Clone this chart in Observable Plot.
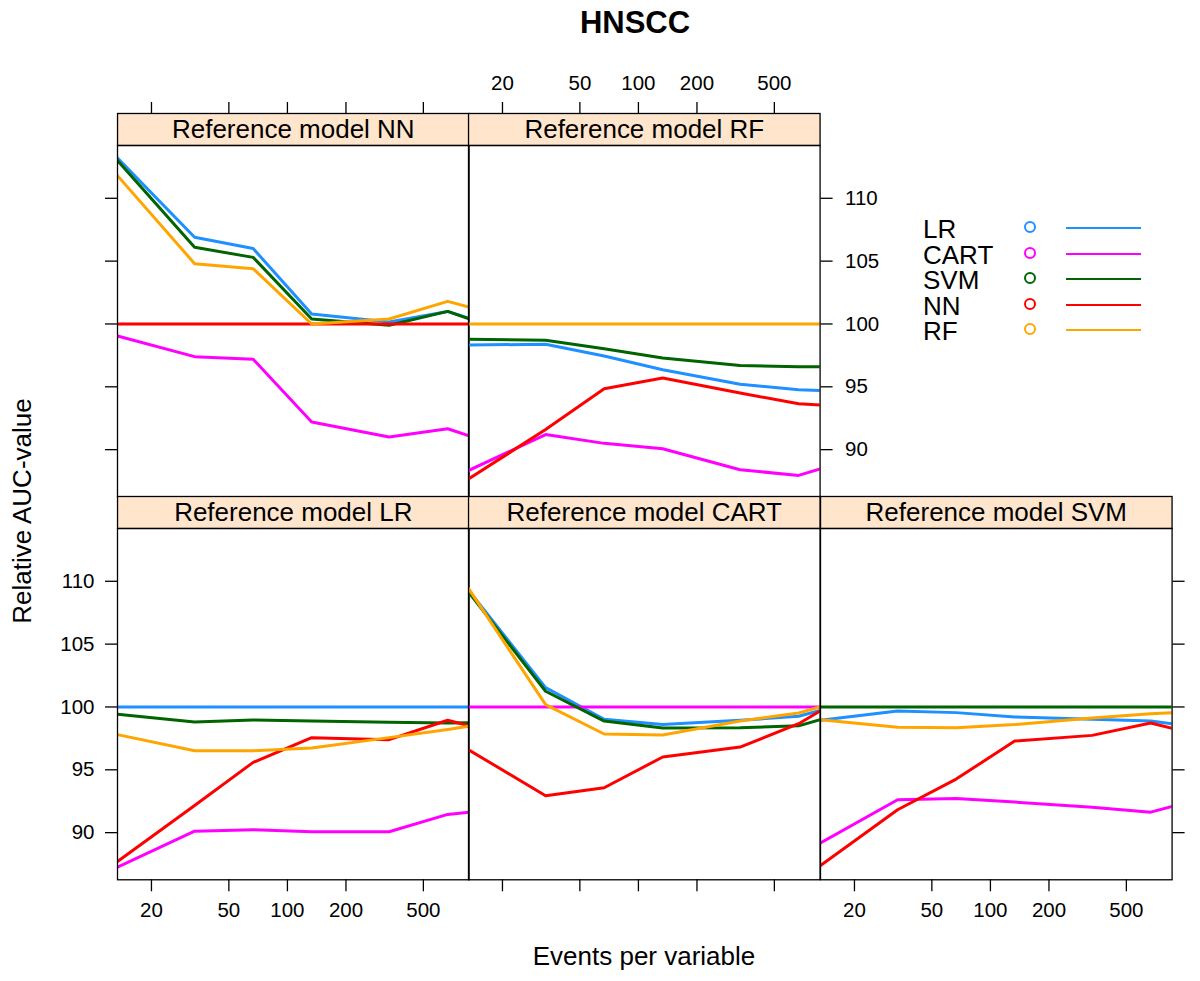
<!DOCTYPE html>
<html><head><meta charset="utf-8">
<script src="https://cdn.jsdelivr.net/npm/d3@7"></script>
<script src="https://cdn.jsdelivr.net/npm/@observablehq/plot@0.6"></script>
<style>
body{margin:0;background:#fff;}
#fig{position:relative;width:1200px;height:981px;font-family:"Liberation Sans",Arial,Helvetica,sans-serif;color:#000;overflow:hidden;background:#fff;}
.abs{position:absolute;white-space:nowrap;}
</style></head><body><div id="fig"></div>
<script>
// ---------- data ----------
const series = ["LR", "CART", "SVM", "NN", "RF"];
const seriesColors = ["#1E90FF", "#FF00FF", "#006400", "#FF0000", "#FFA500"];
const epv = [13.38, 33.33, 66.67, 133.3, 333.3, 666.7, 859];
const xTicks = [20, 50, 100, 200, 500];
const yTicks = [90, 95, 100, 105, 110];
const xDomain = [13.38, 859];
const yDomain = [86.25, 114.2];

// Reference model NN
const nnLR   = [113.2, 106.9, 106.0, 100.8, 100.15, 101.0, 100.45];
const nnCART = [99.04, 97.4, 97.2, 92.2, 91.0, 91.66, 91.1];
const nnSVM  = [113.0, 106.1, 105.3, 100.4, 99.9, 101.0, 100.4];
const nnNN   = [100, 100, 100, 100, 100, 100, 100];
const nnRF   = [111.8, 104.8, 104.4, 100.0, 100.4, 101.8, 101.35];
// Reference model RF
const rfLR   = [98.33, 98.38, 97.45, 96.36, 95.2, 94.77, 94.7];
const rfCART = [88.34, 91.2, 90.5, 90.07, 88.4, 87.95, 88.47];
const rfSVM  = [98.78, 98.7, 98.03, 97.3, 96.7, 96.6, 96.6];
const rfNN   = [87.67, 91.6, 94.85, 95.7, 94.5, 93.65, 93.55];
const rfRF   = [100, 100, 100, 100, 100, 100, 100];
// Reference model LR
const lrLR   = [100, 100, 100, 100, 100, 100, 100];
const lrCART = [87.25, 90.12, 90.23, 90.07, 90.07, 91.45, 91.63];
const lrSVM  = [99.42, 98.8, 98.96, 98.88, 98.78, 98.73, 98.75];
const lrNN   = [87.7, 92.16, 95.59, 97.56, 97.4, 98.94, 98.5];
const lrRF   = [97.8, 96.52, 96.52, 96.73, 97.56, 98.2, 98.46];
// Reference model CART
const cartLR   = [109.3, 101.54, 99.02, 98.6, 98.94, 99.26, 99.73];
const cartCART = [100, 100, 100, 100, 100, 100, 100];
const cartSVM  = [109.16, 101.25, 98.88, 98.33, 98.35, 98.5, 98.99];
const cartNN   = [96.6, 92.93, 93.57, 96.02, 96.81, 98.67, 99.68];
const cartRF   = [109.43, 100.19, 97.85, 97.77, 98.88, 99.52, 100.0];
// Reference model SVM
const svmLR   = [98.94, 99.68, 99.55, 99.2, 99.02, 98.88, 98.67];
const svmCART = [89.19, 92.62, 92.72, 92.43, 92.03, 91.63, 92.08];
const svmSVM  = [100, 100, 100, 100, 100, 100, 100];
const svmNN   = [87.38, 91.82, 94.26, 97.29, 97.74, 98.73, 98.3];
const svmRF   = [98.99, 98.38, 98.35, 98.6, 99.12, 99.47, 99.55];

const panels = [
  {ref: "NN",   row: 0, col: 0, values: [nnLR, nnCART, nnSVM, nnNN, nnRF],           axes: {left: "ticks", top: "ticks"}},
  {ref: "RF",   row: 0, col: 1, values: [rfLR, rfCART, rfSVM, rfNN, rfRF],           axes: {right: "labels", top: "labels"}},
  {ref: "LR",   row: 1, col: 0, values: [lrLR, lrCART, lrSVM, lrNN, lrRF],           axes: {left: "labels", bottom: "labels"}},
  {ref: "CART", row: 1, col: 1, values: [cartLR, cartCART, cartSVM, cartNN, cartRF], axes: {bottom: "ticks"}},
  {ref: "SVM",  row: 1, col: 2, values: [svmLR, svmCART, svmSVM, svmNN, svmRF],      axes: {bottom: "labels", right: "ticks"}}
];

// ---------- layout ----------
const fig = document.getElementById("fig");
const W = 351.6, SH = 32, PH = 351.3;
const colLeft = c => 116.7 + c * 351.6;
const stripTop = [112.7, 496];
const M = 70, MB = 45, MT = 50;
const tickFont = 20.5;
const baseStyle = {background: "none", overflow: "visible", fontFamily: '"Liberation Sans", Arial, sans-serif', fontSize: tickFont + "px", color: "#000"};

function place(el, left, top) {
  el.style.position = "absolute";
  el.style.left = left + "px";
  el.style.top = top + "px";
  fig.appendChild(el);
  return el;
}
const fmt = d => String(d);
const blank = () => "";
const axisCommon = {tickSize: 12, strokeWidth: 1.3, fontSize: tickFont, label: null};

for (const p of panels) {
  const rows = [];
  p.values.forEach((arr, si) => arr.forEach((v, i) => rows.push({series: series[si], epv: epv[i], value: v})));
  const left = colLeft(p.col);
  const sTop = stripTop[p.row];
  const pTop = sTop + SH;

  // strip (with optional top axis)
  const stripMarks = [
    Plot.frame({fill: "#ffe5cc", stroke: "black", strokeWidth: 1.3}),
    Plot.text([`Reference model ${p.ref}`], {frameAnchor: "middle", text: d => d, fontSize: 26, fill: "black"})
  ];
  if (p.axes.top) {
    stripMarks.push(Plot.axisX({...axisCommon, anchor: "top", ticks: xTicks, tickPadding: 11,
      tickFormat: p.axes.top === "labels" ? fmt : blank}));
  }
  const strip = Plot.plot({
    width: W, height: MT + SH, marginTop: MT, marginBottom: 0, marginLeft: 0, marginRight: 0,
    x: p.axes.top ? {type: "log", domain: xDomain} : {type: "log", domain: xDomain, axis: null},
    style: baseStyle,
    marks: stripMarks
  });
  place(strip, left, sTop - MT);

  // panel
  const marks = [
    Plot.line(rows, {x: "epv", y: "value", z: "series", stroke: "series", strokeWidth: 3, clip: true}),
    Plot.frame({stroke: "black", strokeWidth: 1.3})
  ];
  if (p.axes.left) marks.push(Plot.axisY({...axisCommon, anchor: "left", ticks: yTicks, tickPadding: 11,
    tickFormat: p.axes.left === "labels" ? fmt : blank}));
  if (p.axes.right) marks.push(Plot.axisY({...axisCommon, anchor: "right", ticks: yTicks, tickPadding: 13,
    tickFormat: p.axes.right === "labels" ? fmt : blank}));
  if (p.axes.bottom) marks.push(Plot.axisX({...axisCommon, anchor: "bottom", ticks: xTicks, tickPadding: 11,
    tickFormat: p.axes.bottom === "labels" ? fmt : blank}));
  const xOpt = {type: "log", domain: xDomain};
  if (!p.axes.bottom) xOpt.axis = null;
  const yOpt = {domain: yDomain};
  if (!p.axes.left && !p.axes.right) yOpt.axis = null;
  const chart = Plot.plot({
    width: W + 2 * M, height: PH + MB, marginLeft: M, marginRight: M, marginTop: 0, marginBottom: MB,
    x: xOpt, y: yOpt,
    color: {domain: series, range: seriesColors},
    style: baseStyle,
    marks
  });
  place(chart, left - M, pTop);
}

// ---------- text ----------
function label(txt, cx, cy, style, rotate) {
  const d = document.createElement("div");
  d.className = "abs";
  d.textContent = txt;
  Object.assign(d.style, style);
  d.style.left = cx + "px";
  d.style.top = cy + "px";
  d.style.transform = "translate(-50%,-50%)" + (rotate ? " rotate(" + rotate + "deg)" : "");
  fig.appendChild(d);
  return d;
}
label("HNSCC", 635, 23, {fontSize: "31px", fontWeight: "bold", lineHeight: "36px"});
label("Events per variable", 644, 956, {fontSize: "26px", lineHeight: "30px"});
label("Relative AUC-value", 22, 511, {fontSize: "26px", lineHeight: "30px"}, -90);

// ---------- legend ----------
const legendY0 = 228, legendStep = 25.6;
series.forEach((s, i) => {
  const yc = Math.round(legendY0 + i * legendStep);
  const t = document.createElement("div");
  t.className = "abs";
  t.textContent = s;
  Object.assign(t.style, {fontSize: "26px", lineHeight: "24px", height: "24px", left: "923px", top: (yc - 11) + "px"});
  fig.appendChild(t);
  const c = document.createElement("div");
  c.className = "abs";
  Object.assign(c.style, {left: "1024px", top: (yc - 7) + "px", width: "8px", height: "8px",
    border: `2.8px solid ${seriesColors[i]}`, borderRadius: "50%"});
  fig.appendChild(c);
  const l = document.createElement("div");
  l.className = "abs";
  Object.assign(l.style, {left: "1066px", top: (yc - 1) + "px", width: "75px", height: "2px", background: seriesColors[i]});
  fig.appendChild(l);
});
</script></body></html>
